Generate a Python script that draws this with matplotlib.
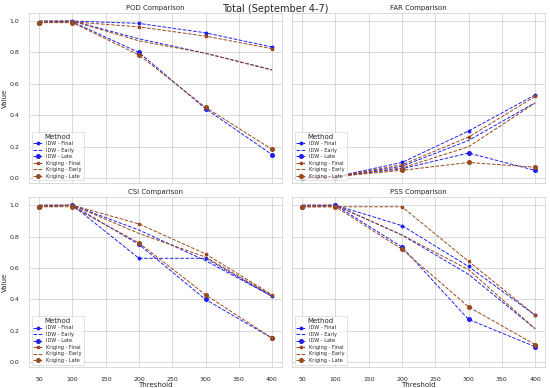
import matplotlib
matplotlib.use("Agg")
import matplotlib.pyplot as plt
import seaborn as sns

sns.set_theme(style="whitegrid")

thresholds = [50, 100, 200, 300, 400]

# POD
pod_idw_final = [0.99, 1.00, 0.985, 0.925, 0.835]
pod_idw_early = [1.00, 1.00, 0.887, 0.795, 0.690]
pod_idw_late = [0.99, 0.995, 0.800, 0.442, 0.150]
pod_kr_final = [0.99, 0.995, 0.963, 0.904, 0.824]
pod_kr_early = [1.00, 1.00, 0.874, 0.795, 0.688]
pod_kr_late = [0.99, 0.99, 0.784, 0.451, 0.183]

# FAR
far_idw_final = [0.0, 0.01, 0.100, 0.300, 0.530]
far_idw_early = [0.0, 0.01, 0.076, 0.240, 0.480]
far_idw_late = [0.0, 0.01, 0.060, 0.160, 0.050]
far_kr_final = [0.0, 0.01, 0.085, 0.262, 0.520]
far_kr_early = [0.0, 0.01, 0.065, 0.200, 0.478]
far_kr_late = [0.0, 0.01, 0.050, 0.100, 0.070]

# CSI
csi_idw_final = [0.99, 1.00, 0.662, 0.662, 0.420]
csi_idw_early = [1.00, 1.00, 0.842, 0.647, 0.420]
csi_idw_late = [0.99, 1.00, 0.750, 0.400, 0.154]
csi_kr_final = [0.99, 1.00, 0.881, 0.690, 0.430]
csi_kr_early = [1.00, 1.00, 0.820, 0.670, 0.425]
csi_kr_late = [0.99, 0.99, 0.760, 0.430, 0.154]

# PSS
pss_idw_final = [0.99, 1.00, 0.870, 0.610, 0.300]
pss_idw_early = [1.00, 1.00, 0.810, 0.560, 0.214]
pss_idw_late = [0.99, 1.00, 0.734, 0.273, 0.100]
pss_kr_final = [0.99, 0.99, 0.990, 0.643, 0.300]
pss_kr_early = [1.00, 1.00, 0.810, 0.590, 0.214]
pss_kr_late = [0.99, 0.99, 0.720, 0.353, 0.113]

panels = [
    ("POD Comparison", [pod_idw_final, pod_idw_early, pod_idw_late,
                        pod_kr_final, pod_kr_early, pod_kr_late]),
    ("FAR Comparison", [far_idw_final, far_idw_early, far_idw_late,
                        far_kr_final, far_kr_early, far_kr_late]),
    ("CSI Comparison", [csi_idw_final, csi_idw_early, csi_idw_late,
                        csi_kr_final, csi_kr_early, csi_kr_late]),
    ("PSS Comparison", [pss_idw_final, pss_idw_early, pss_idw_late,
                        pss_kr_final, pss_kr_early, pss_kr_late]),
]

labels = ["IDW - Final", "IDW - Early", "IDW - Late",
          "Kriging - Final", "Kriging - Early", "Kriging - Late"]
idw_c = "#2020f0"
kr_c = "#9a4a1c"
styles = [
    dict(color=idw_c, marker="o", markersize=1.8),
    dict(color=idw_c, marker=None),
    dict(color=idw_c, marker="o", markersize=2.6),
    dict(color=kr_c, marker="s", markersize=1.6),
    dict(color=kr_c, marker=None),
    dict(color=kr_c, marker="o", markersize=2.6),
]

fig, axs = plt.subplots(2, 2, figsize=(5.5, 3.88), dpi=100, sharex=True, sharey=True)
fig.suptitle("Total (September 4-7)", fontsize=7, y=0.99)

for ax, (title, series) in zip(axs.flat, panels):
    for vals, lab, st in zip(series, labels, styles):
        ax.plot(thresholds, vals, linestyle="--", linewidth=0.7, label=lab, **st)
    ax.set_title(title, fontsize=5, pad=2.5)
    ax.tick_params(labelsize=4.5, pad=1)
    ax.set_ylim(-0.03, 1.05)
    ax.set_xlim(35, 415)
    ax.set_xticks([50, 100, 150, 200, 250, 300, 350, 400])
    ax.set_yticks([0.0, 0.2, 0.4, 0.6, 0.8, 1.0])
    ax.grid(linewidth=0.5)
    for sp in ax.spines.values():
        sp.set_linewidth(0.5)
    leg = ax.legend(title="Method", loc="lower left", fontsize=3.6,
                    title_fontsize=5, frameon=True, borderpad=0.35,
                    labelspacing=0.3, handlelength=2.0, handletextpad=0.6)
    leg.get_frame().set_linewidth(0.5)

for ax in axs[1]:
    ax.set_xlabel("Threshold", fontsize=5, labelpad=0.5)
for ax in axs[:, 0]:
    ax.set_ylabel("Value", fontsize=5, labelpad=1.5)

fig.subplots_adjust(left=0.053, right=0.991, top=0.966, bottom=0.054,
                    wspace=0.04, hspace=0.085)
fig.savefig("out.png", dpi=100)
